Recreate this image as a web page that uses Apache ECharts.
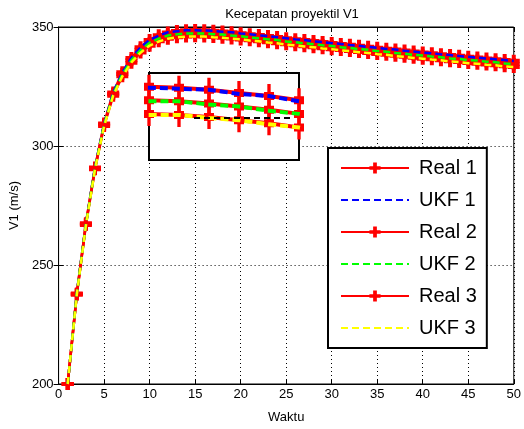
<!DOCTYPE html>
<html>
<head>
<meta charset="utf-8">
<script src="https://cdn.jsdelivr.net/npm/echarts@6/dist/echarts.min.js"></script>
<style>
  html, body { margin: 0; padding: 0; background: #fff; }
  #chart { width: 524px; height: 429px; }
</style>
</head>
<body>
<div id="chart"></div>
<script>
// langkah waktu 1..50
const waktu = Array.from({ length: 50 }, (_, i) => i + 1);

const real1 = [200, 238, 267.5, 291, 309.5, 322.5, 331, 337, 341.5, 344.5, 346.5, 347.7, 348.3, 348.6, 348.7, 348.6, 348.4, 348.1, 347.8, 347.4,
  347.0, 346.6, 346.2, 345.8, 345.3, 344.9, 344.5, 344.1, 343.7, 343.3, 342.9, 342.5, 342.1, 341.7, 341.3, 340.9, 340.5, 340.1, 339.7, 339.3,
  339.0, 338.6, 338.2, 337.9, 337.5, 337.2, 336.8, 336.5, 336.1, 335.8];
const ukf1 = [200, 238.2, 267.3, 291.2, 309.3, 322.6, 330.8, 337.1, 341.4, 344.6, 346.4, 347.8, 348.2, 348.6, 348.6, 348.5, 348.4, 348.0, 347.8, 347.3,
  347.0, 346.5, 346.2, 345.7, 345.3, 344.8, 344.5, 344.0, 343.7, 343.2, 342.9, 342.4, 342.1, 341.6, 341.3, 340.8, 340.5, 340.0, 339.7, 339.2,
  339.0, 338.5, 338.2, 337.8, 337.5, 337.1, 336.8, 336.4, 336.1, 335.7];
const real2 = [200, 237.8, 267.2, 290.6, 309, 321.8, 330.2, 336, 340.4, 343.3, 345.2, 346.4, 347.0, 347.3, 347.4, 347.3, 347.1, 346.8, 346.5, 346.1,
  345.7, 345.3, 344.9, 344.5, 344.0, 343.6, 343.2, 342.8, 342.4, 342.0, 341.6, 341.2, 340.8, 340.4, 340.0, 339.6, 339.2, 338.8, 338.4, 338.0,
  337.7, 337.3, 336.9, 336.6, 336.2, 335.9, 335.5, 335.2, 334.8, 334.5];
const ukf2 = [200, 237.9, 267.0, 290.7, 308.9, 321.9, 330.1, 336.1, 340.3, 343.4, 345.1, 346.4, 346.9, 347.3, 347.3, 347.3, 347.0, 346.8, 346.4, 346.1,
  345.6, 345.3, 344.8, 344.5, 343.9, 343.6, 343.1, 342.8, 342.3, 342.0, 341.5, 341.2, 340.7, 340.4, 339.9, 339.6, 339.1, 338.8, 338.3, 338.0,
  337.6, 337.3, 336.8, 336.6, 336.1, 335.9, 335.4, 335.2, 334.7, 334.5];
const real3 = [200, 237.5, 266.8, 290.2, 308.4, 321.1, 329.3, 335, 339.3, 342.1, 344.0, 345.1, 345.7, 346.0, 346.1, 346.0, 345.8, 345.5, 345.2, 344.8,
  344.4, 344.0, 343.6, 343.2, 342.7, 342.3, 341.9, 341.5, 341.1, 340.7, 340.3, 339.9, 339.5, 339.1, 338.7, 338.3, 337.9, 337.5, 337.1, 336.7,
  336.4, 336.0, 335.6, 335.3, 334.9, 334.6, 334.2, 333.9, 333.5, 333.2];
const ukf3 = [200, 237.6, 266.6, 290.3, 308.3, 321.2, 329.2, 335.1, 339.2, 342.2, 343.9, 345.1, 345.6, 346.0, 346.0, 346.0, 345.7, 345.5, 345.1, 344.8,
  344.3, 344.0, 343.5, 343.2, 342.6, 342.3, 341.8, 341.5, 341.0, 340.7, 340.2, 339.9, 339.4, 339.1, 338.6, 338.3, 337.8, 337.5, 337.0, 336.7,
  336.3, 336.0, 335.5, 335.3, 334.8, 334.6, 334.1, 333.9, 333.4, 333.2];

// garis putus hitam di kotak zoom
const insetRefX = [16.5, 19.8];
const insetRefY = [345.7, 345.7];

const yTicks = [200, 250, 300, 350];

const chart = echarts.init(document.getElementById("chart"));

// tanda "+" merah
const plus = "path://M4,0h4v4h4v4h-4v4h-4v-4h-4v-4h4z";

const pairs = (arr) => arr.map((v, i) => [waktu[i], v]);

const realSeries = (name, arr, inset) => ({
  name: inset ? name + " zoom" : name,
  type: "line",
  xAxisIndex: inset ? 2 : 0,
  yAxisIndex: inset ? 2 : 0,
  z: inset ? 12 : 2,
  data: pairs(arr),
  symbol: plus,
  symbolSize: inset ? [10, 24] : 12,
  itemStyle: { color: "#ff0000" },
  lineStyle: { color: "#ff0000", width: inset ? 4 : 2.5 },
});

// garis UKF di atas semua garis Real; simbol transparan supaya legend tanpa titik
const ukfSeries = (name, arr, color, inset) => ({
  name: inset ? name + " zoom" : name,
  type: "line",
  xAxisIndex: inset ? 2 : 0,
  yAxisIndex: inset ? 2 : 0,
  z: inset ? 13 : 3,
  data: pairs(arr),
  symbol: "circle",
  showSymbol: false,
  itemStyle: { color: "rgba(0,0,0,0)" },
  lineStyle: { color: color, width: inset ? 4 : 2.5, type: inset ? [8, 4] : [7, 4] },
});

const font = "Liberation Sans, Arial, sans-serif";

const option = {
  animation: false,
  backgroundColor: "#fff",
  title: {
    text: "Kecepatan proyektil V1",
    left: 287,
    top: 3,
    textAlign: "center",
    textStyle: { fontSize: 13, fontWeight: "normal", color: "#000", fontFamily: font },
  },
  legend: {
    orient: "vertical",
    left: 328,
    top: 148,
    z: 20,
    data: ["Real 1", "UKF 1", "Real 2", "UKF 2", "Real 3", "UKF 3"],
    backgroundColor: "#fff",
    borderColor: "#000",
    borderWidth: 2,
    borderRadius: 0,
    padding: [8, 10, 8, 12],
    itemWidth: 68,
    itemHeight: 14,
    itemGap: 8,
    textStyle: { fontSize: 20, lineHeight: 24, color: "#000", fontFamily: font, padding: [0, 0, 0, 5] },
  },
  grid: [
    { left: 57, right: 6, top: 27, bottom: 38, show: true, borderColor: "#000", borderWidth: 1 },
    {
      left: 149, top: 73, width: 150, height: 87, show: true, z: 10,
      backgroundColor: "#fff", borderColor: "#000", borderWidth: 2,
    },
  ],
  xAxis: [
    {
      type: "value", gridIndex: 0, min: 0, max: 50, interval: 5,
      name: "Waktu", nameLocation: "middle", nameGap: 27,
      nameTextStyle: { fontSize: 13, color: "#000", fontFamily: font },
      axisLine: { lineStyle: { color: "#000" } },
      axisTick: { inside: true, length: 5, lineStyle: { color: "#000" } },
      axisLabel: { fontSize: 13, color: "#000", margin: 4, fontFamily: font },
      splitLine: { show: true, lineStyle: { color: "#000", type: [1, 3] } },
    },
    {
      type: "value", gridIndex: 0, min: 0, max: 50, interval: 5, position: "top",
      axisLine: { lineStyle: { color: "#000" } },
      axisTick: { inside: true, length: 5, lineStyle: { color: "#000" } },
      axisLabel: { show: false },
      splitLine: { show: false },
    },
    { type: "value", gridIndex: 1, min: 15, max: 20, show: false },
  ],
  yAxis: [
    {
      type: "value", gridIndex: 0, min: yTicks[0], max: yTicks[yTicks.length - 1], interval: 50,
      name: "V1 (m/s)", nameLocation: "middle", nameGap: 37,
      nameTextStyle: { fontSize: 13, color: "#000", fontFamily: font },
      axisLine: { show: true, lineStyle: { color: "#000" } },
      axisTick: { show: true, inside: true, length: 5, lineStyle: { color: "#000" } },
      axisLabel: { fontSize: 13, color: "#000", margin: 5, fontFamily: font },
      splitLine: { show: true, lineStyle: { color: "#000", type: [1, 3] } },
    },
    {
      type: "value", gridIndex: 0, min: 200, max: 350, interval: 50, position: "right",
      axisLine: { show: true, lineStyle: { color: "#000" } },
      axisTick: { show: true, inside: true, length: 5, lineStyle: { color: "#000" } },
      axisLabel: { show: false },
      splitLine: { show: false },
    },
    { type: "value", gridIndex: 1, min: 341.7, max: 350, show: false },
  ],
  series: [
    realSeries("Real 1", real1, false),
    ukfSeries("UKF 1", ukf1, "#0000ff", false),
    realSeries("Real 2", real2, false),
    ukfSeries("UKF 2", ukf2, "#00ff00", false),
    realSeries("Real 3", real3, false),
    ukfSeries("UKF 3", ukf3, "#ffff00", false),
    realSeries("Real 1", real1, true),
    ukfSeries("UKF 1", ukf1, "#0000ff", true),
    realSeries("Real 2", real2, true),
    ukfSeries("UKF 2", ukf2, "#00ff00", true),
    realSeries("Real 3", real3, true),
    ukfSeries("UKF 3", ukf3, "#ffff00", true),
    {
      name: "ref zoom",
      type: "line",
      xAxisIndex: 2,
      yAxisIndex: 2,
      z: 14,
      symbol: "none",
      data: insetRefX.map((x, i) => [x, insetRefY[i]]),
      lineStyle: { color: "#000", width: 2, type: [6, 4] },
    },
  ],
};

chart.setOption(option);
</script>
</body>
</html>
